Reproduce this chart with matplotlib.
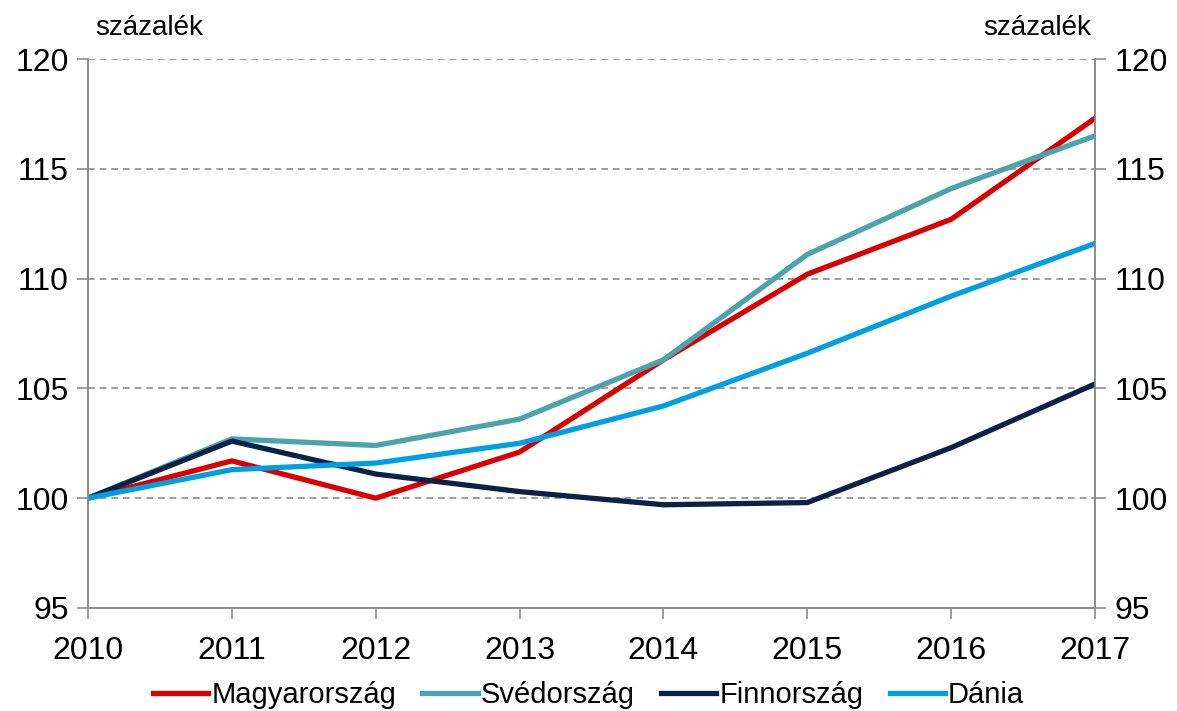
import matplotlib
matplotlib.use("Agg")
import matplotlib.pyplot as plt

years = [2010, 2011, 2012, 2013, 2014, 2015, 2016, 2017]
magyar = [100, 101.7, 100.0, 102.1, 106.3, 110.2, 112.7, 117.3]
sved = [100, 102.7, 102.4, 103.6, 106.3, 111.1, 114.1, 116.5]
finn = [100, 102.6, 101.1, 100.3, 99.7, 99.8, 102.3, 105.2]
dania = [100, 101.3, 101.6, 102.5, 104.2, 106.6, 109.2, 111.6]
y_ticks = [95, 100, 105, 110, 115, 120]

plt.rcParams['font.family'] = ['Liberation Sans', 'DejaVu Sans']

fig = plt.figure(figsize=(11.77, 7.11), dpi=100)
ax = fig.add_axes([0.0748, 0.1449, 0.8555, 0.7721])

# rácsvonalak
for v in y_ticks[1:]:
    ax.axhline(v, color='#8c8c8c', linestyle=(0, (4, 3)), linewidth=1.2, zorder=1)

ax.plot(years, magyar, color='#DA0000', linewidth=3.8, label='Magyarország', zorder=3)
ax.plot(years, sved, color='#4BA3B0', linewidth=3.8, label='Svédország', zorder=3)
ax.plot(years, finn, color='#0C2148', linewidth=3.8, label='Finnország', zorder=3)
ax.plot(years, dania, color='#009FE3', linewidth=3.8, label='Dánia', zorder=3)

ax.set_xlim(2010, 2017)
ax.set_ylim(95, 120)
ax.set_xticks(years)
ax.set_yticks(y_ticks)
ax.tick_params(axis='both', labelsize=23, color='#8c8c8c', length=8, width=1.2, direction='out')
ax.tick_params(axis='x', pad=12)
ax.tick_params(axis='y', pad=6)

ax2 = ax.twinx()
ax2.set_ylim(95, 120)
ax2.set_yticks(y_ticks)
ax2.tick_params(axis='y', labelsize=23, color='#8c8c8c', length=8, width=1.2, pad=6)

for a in (ax, ax2):
    a.spines['top'].set_visible(False)
    for s in ('left', 'right', 'bottom'):
        a.spines[s].set_color('#8c8c8c')
        a.spines[s].set_linewidth(1.2)

fig.text(0.081, 0.96, 'százalék', fontsize=20, ha='left', va='center')
fig.text(0.927, 0.96, 'százalék', fontsize=20, ha='right', va='center')

fig.legend(loc='center', bbox_to_anchor=(0.5, 0.022), ncol=4, frameon=False,
           fontsize=21, handlelength=1.9, handletextpad=0.1, columnspacing=0.9)

fig.savefig('out.png', dpi=100)
